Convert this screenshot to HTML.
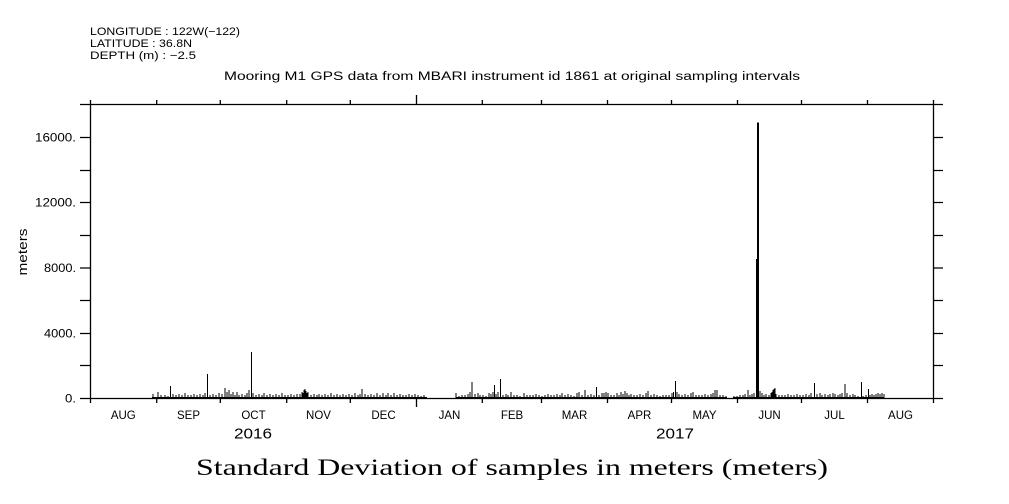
<!DOCTYPE html>
<html><head><meta charset="utf-8"><style>
html,body{margin:0;padding:0;background:#fff;}
svg{display:block;}
text{font-family:"Liberation Sans",sans-serif;fill:#000;}
</style></head><body>
<svg width="1009" height="504" viewBox="0 0 1009 504" xmlns="http://www.w3.org/2000/svg">
<rect width="1009" height="504" fill="#fff"/>
<!-- header -->
<text x="90" y="35" font-size="11" textLength="150" lengthAdjust="spacingAndGlyphs">LONGITUDE : 122W(−122)</text>
<text x="90" y="47" font-size="11" textLength="102" lengthAdjust="spacingAndGlyphs">LATITUDE : 36.8N</text>
<text x="90" y="59" font-size="11" textLength="106" lengthAdjust="spacingAndGlyphs">DEPTH (m) : −2.5</text>
<text x="224" y="80" font-size="11.5" textLength="576" lengthAdjust="spacingAndGlyphs">Mooring M1 GPS data from MBARI instrument id 1861 at original sampling intervals</text>

<g stroke="#000" stroke-width="1.3" fill="none">
<path d="M80,104.5H943 M80,398.5H943 M90.5,100V403 M933.5,100V403"/>
<path d="M80,137.5H90 M80,170.5H90 M80,202.5H90 M80,235.5H90 M80,268H90 M80,300.5H90 M80,333.5H90 M80,365.5H90"/>
<path d="M933,137.5H943 M933,170.5H943 M933,202.5H943 M933,235.5H943 M933,268H943 M933,300.5H943 M933,333.5H943 M933,365.5H943"/>
<path d="M156.7,100V104 M220.3,100V104 M286.7,100V104 M350.3,100V104 M416.5,95V104 M482.3,100V104 M541.5,100V104 M607.5,100V104 M671.5,100V104 M737.5,100V104 M801.5,100V104 M867.5,100V104"/>
<path d="M156.7,398V403 M220.3,398V403 M286.7,398V403 M350.3,398V403 M416.5,398V407 M482.3,398V403 M541.5,398V403 M607.5,398V403 M671.5,398V403 M737.5,398V403 M801.5,398V403 M867.5,398V403"/>
</g>

<g font-size="11.5" text-anchor="end">
<text x="76" y="141.5" textLength="41" lengthAdjust="spacingAndGlyphs">16000.</text>
<text x="76" y="206.5" textLength="41" lengthAdjust="spacingAndGlyphs">12000.</text>
<text x="76" y="272" textLength="32" lengthAdjust="spacingAndGlyphs">8000.</text>
<text x="76" y="337.5" textLength="32" lengthAdjust="spacingAndGlyphs">4000.</text>
<text x="76" y="402.5" textLength="11" lengthAdjust="spacingAndGlyphs">0.</text>
</g>
<text transform="translate(27,252) rotate(-90)" font-size="12.5" text-anchor="middle" textLength="47" lengthAdjust="spacingAndGlyphs">meters</text>

<g font-size="11.5" text-anchor="middle">
<text x="123.3" y="419">AUG</text>
<text x="188.5" y="419">SEP</text>
<text x="253.5" y="419">OCT</text>
<text x="318.5" y="419">NOV</text>
<text x="383.5" y="419">DEC</text>
<text x="449.5" y="419">JAN</text>
<text x="512" y="419">FEB</text>
<text x="574.5" y="419">MAR</text>
<text x="639.5" y="419">APR</text>
<text x="704.5" y="419">MAY</text>
<text x="769.5" y="419">JUN</text>
<text x="834.5" y="419">JUL</text>
<text x="900.5" y="419">AUG</text>
</g>
<text x="253" y="438.5" font-size="15" text-anchor="middle" textLength="38" lengthAdjust="spacingAndGlyphs">2016</text>
<text x="675" y="438.5" font-size="15" text-anchor="middle" textLength="38" lengthAdjust="spacingAndGlyphs">2017</text>

<text x="196" y="475" font-size="23" textLength="632" lengthAdjust="spacingAndGlyphs" style="font-family:'Liberation Serif',serif">Standard Deviation of samples in meters (meters)</text>

<g fill="#000" shape-rendering="crispEdges">
<rect x="152" y="397" width="275" height="1.5"/>
<rect x="456" y="397" width="271" height="1.5"/>
<rect x="733" y="397" width="151" height="1.5"/>
<rect x="756" y="259" width="1" height="139"/>
<rect x="757" y="122.5" width="2" height="276"/>
</g>
<path stroke="#000" stroke-width="1" fill="none" shape-rendering="crispEdges" d="
M153,398v-4 M158,398v-6 M161,398v-3 M165,398v-3 M168,398v-2 M170.7,398v-12 M173,398v-4 M176,398v-3 M179,398v-4 M182,398v-3 M185,398v-5 M188,398v-3 M191,398v-3 M194,398v-4 M197,398v-3 M200,398v-4 M203,398v-3 M205,398v-5 M207.3,398v-24 M210,398v-3 M213,398v-4 M216,398v-3 M219,398v-5 M222,398v-4 M225,398v-10 M227,398v-6 M229,398v-8 M231,398v-4 M233,398v-6 M235,398v-3 M237,398v-6 M239,398v-3 M242,398v-4 M245,398v-3 M247,398v-5 M249,398v-8 M251.3,398v-46 M253,398v-5 M256,398v-3 M259,398v-4 M262,398v-3 M264,398v-5 M267,398v-3 M270,398v-4 M273,398v-3 M276,398v-4 M279,398v-3 M282,398v-5 M285,398v-3 M288,398v-3 M291,398v-4 M294,398v-3 M297,398v-4 M300,398v-4 M302,398v-6 M303,398v-5 M304,398v-8 M305,398v-9 M306,398v-7 M307,398v-5 M308,398v-6 M311,398v-3 M314,398v-4 M317,398v-3 M319,398v-4 M322,398v-3 M325,398v-4 M328,398v-3 M331,398v-5 M334,398v-3 M337,398v-4 M340,398v-3 M343,398v-4 M346,398v-3 M349,398v-4 M352,398v-3 M355,398v-5 M358,398v-3 M360,398v-4 M362,398v-9 M365,398v-4 M368,398v-3 M371,398v-4 M374,398v-3 M377,398v-5 M380,398v-3 M383,398v-5 M386,398v-3 M388,398v-5 M391,398v-3 M394,398v-5 M397,398v-3 M400,398v-4 M403,398v-3 M406,398v-3 M409,398v-4 M412,398v-3 M415,398v-4 M418,398v-3 M421,398v-2 M424,398v-3
M456,398v-5 M459,398v-2 M462,398v-3 M465,398v-3 M468,398v-4 M470,398v-6 M472,398v-16 M475,398v-4 M478,398v-5 M480,398v-3 M483,398v-3 M486,398v-2 M489,398v-5 M491,398v-4 M493,398v-6 M494.3,398v-13 M496,398v-4 M498,398v-6 M500.3,398v-19 M503,398v-3 M506,398v-4 M508,398v-3 M511,398v-6 M514,398v-3 M517,398v-3 M520,398v-2 M524,398v-5 M527,398v-3 M530,398v-3 M533,398v-3 M536,398v-4 M539,398v-3 M542,398v-2 M545,398v-3 M548,398v-4 M551,398v-3 M554,398v-3 M557,398v-4 M560,398v-3 M562,398v-5 M565,398v-3 M568,398v-4 M571,398v-3 M574,398v-2 M577,398v-5 M579,398v-6 M582,398v-3 M585,398v-8 M588,398v-3 M591,398v-4 M594,398v-3 M596.3,398v-11 M599,398v-3 M602,398v-5 M604,398v-5 M606,398v-6 M608,398v-5 M611,398v-3 M614,398v-3 M617,398v-5 M619,398v-3 M621,398v-6 M623,398v-4 M625,398v-7 M627,398v-5 M629,398v-3 M631,398v-4 M634,398v-3 M637,398v-3 M640,398v-4 M643,398v-3 M646,398v-5 M648,398v-7 M651,398v-3 M654,398v-4 M657,398v-3 M660,398v-2 M663,398v-3 M666,398v-3 M669,398v-3 M672,398v-5 M673.5,398v-6 M675.3,398v-17 M677,398v-6 M679,398v-4 M682,398v-3 M685,398v-4 M688,398v-3 M691,398v-5 M693,398v-6 M696,398v-3 M699,398v-3 M702,398v-3 M705,398v-4 M708,398v-3 M711,398v-4 M713,398v-5 M715,398v-8 M717,398v-8 M720,398v-3 M723,398v-3 M726,398v-2
M734,398v-2 M737,398v-2 M740,398v-3 M743,398v-3 M745,398v-4 M748,398v-8 M750,398v-3 M752,398v-4 M754,398v-5 M760,398v-7 M762,398v-5 M764,398v-3 M766,398v-4 M769,398v-3 M771,398v-5 M772,398v-6 M773,398v-8 M774,398v-9 M775,398v-10 M776,398v-4 M779,398v-3 M782,398v-3 M785,398v-3 M788,398v-4 M791,398v-3 M794,398v-3 M797,398v-4 M800,398v-3 M803,398v-3 M806,398v-4 M809,398v-3 M811,398v-5 M814.3,398v-15 M817,398v-4 M820,398v-5 M822,398v-3 M825,398v-4 M828,398v-3 M830,398v-4 M833,398v-5 M835,398v-4 M838,398v-3 M840,398v-4 M842,398v-5 M845,398v-14 M847,398v-5 M850,398v-3 M853,398v-4 M855,398v-3 M858,398v-2 M861.7,398v-16 M863,398v-2 M866,398v-3 M868.3,398v-9 M870,398v-3 M872,398v-4 M874,398v-3 M876,398v-4 M878,398v-5 M880,398v-4 M882,398v-5 M884,398v-4
"/>
</svg>
</body></html>
